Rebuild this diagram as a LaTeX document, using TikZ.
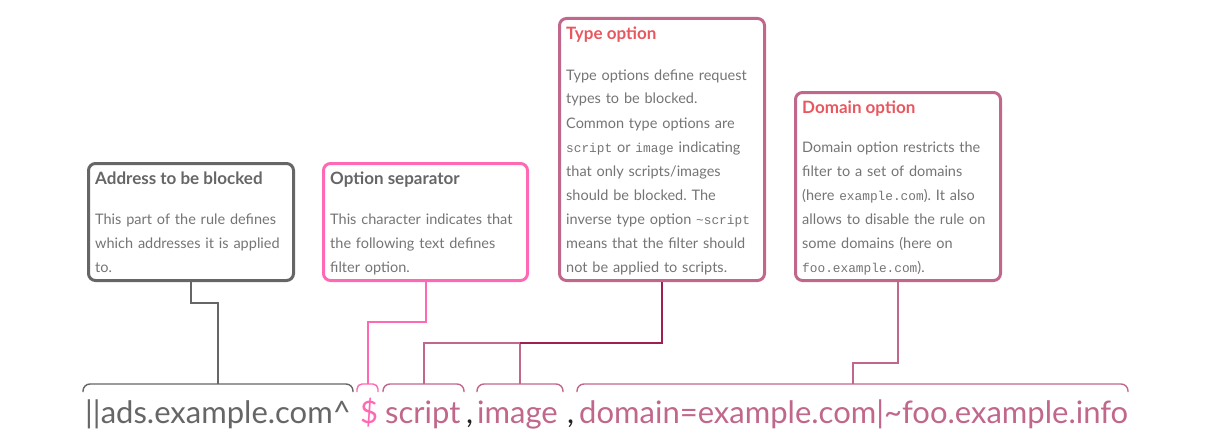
\documentclass[tikz,border=0pt]{standalone}
\usepackage{fontspec}
\setmainfont{Lato}
\newfontfamily\monofont{Liberation Mono}
\frenchspacing
\definecolor{cgray}{HTML}{666666}
\definecolor{cpink}{HTML}{FF69B4}
\definecolor{cmauve}{HTML}{C0678B}
\definecolor{cdark}{HTML}{9E1F52}
\definecolor{cred}{HTML}{E9575E}
\definecolor{ctext}{HTML}{747474}
\definecolor{ccomma}{HTML}{222222}
\newcommand{\mono}[1]{{\monofont\fontsize{12.8}{24}\selectfont #1}}
\tikzset{
  infobox/.style={draw=#1, line width=3pt, rounded corners=7pt, inner sep=0pt},
  boxtitle/.style={anchor=base west, inner sep=0pt, font={\fontsize{17}{20}\selectfont\bfseries}},
  boxbody/.style={anchor=base west, inner sep=0pt, text width=205pt, align=left, text=ctext,
    font={\fontsize{14.5}{24}\selectfont\frenchspacing}},
  rule/.style={anchor=base west, inner sep=0pt, font={\fontsize{31}{36}\selectfont}},
  link/.style={draw=#1, line width=2pt},
  brace/.style={draw=#1, line width=1.4pt, rounded corners=7pt},
}
\begin{document}
\begin{tikzpicture}[x=1pt,y=-1pt]
\useasboundingbox (0,0) rectangle (1217,444);
% boxes
\node[infobox=cgray, minimum width=205pt, minimum height=117pt] (addr) at (191,222) {};
\node[infobox=cpink, minimum width=204pt, minimum height=117pt] (sep) at (425.5,222) {};
\node[infobox=cmauve, minimum width=205pt, minimum height=262pt] (typeopt) at (662,149.5) {};
\node[infobox=cmauve, minimum width=205pt, minimum height=188pt] (domopt) at (898,186.5) {};
% titles
\node[boxtitle, text=cgray] (t1) at (95,184.5) {Address to be blocked};
\node[boxtitle, text=cgray] (t2) at (330,184.5) {Option separator};
\node[boxtitle, text=cred] (t3) at (566,40) {Type option};
\node[boxtitle, text=cred] (t4) at (802,113.5) {Domain option};
% bodies
\node[boxbody] (b1) at (95,224) {This part of the rule defines\\which addresses it is applied\\to.};
\node[boxbody] (b2) at (330,224) {This character indicates that\\the following text defines\\filter option.};
\node[boxbody] (b3) at (566,80) {Type options define request\\types to be blocked.\\Common type options are\\\mono{script} or \mono{image} indicating\\that only scripts/images\\should be blocked. The\\inverse type option \mono{\textasciitilde script}\\means that the filter should\\not be applied to scripts.};
\node[boxbody] (b4) at (802,152) {Domain option restricts the\\filter to a set of domains\\(here \mono{example.com}). It also\\allows to disable the rule on\\some domains (here on\\\mono{foo.example.com}).};
% rule text
\node[rule, text=cgray] (host) at (85,423) {||ads.example.com\textasciicircum};
\node[rule, text=cpink] (dollar) at (360,423) {\$};
\node[rule, text=cmauve] (script) at (385,423) {script};
\node[rule, text=ccomma] (comma1) at (466,423) {,};
\node[rule, text=cmauve] (image) at (477,423) {image};
\node[rule, text=ccomma] (comma2) at (567,423) {,};
\node[rule, text=cmauve] (domain) at (579,423) {domain=example.com|\textasciitilde foo.example.info};
% braces
\draw[brace=cgray] (83,392) -- (83,384) -- (353,384) -- (353,392);
\draw[brace=cpink, rounded corners=5pt] (357,392) -- (357,384) -- (378,384) -- (378,392);
\draw[brace=cmauve] (383,392) -- (383,384) -- (464,384) -- (464,392);
\draw[brace=cmauve] (477,392) -- (477,384) -- (563,384) -- (563,392);
\draw[brace=cmauve] (577,392) -- (577,384) -- (1128,384) -- (1128,392);
% brace attach points
\coordinate (hostb) at (218,384);
\coordinate (dollarb) at (368,384);
\coordinate (scriptb) at (424,384);
\coordinate (imageb) at (520,384);
\coordinate (typej) at (520,343);
\coordinate (domainb) at (853,384);
% connectors
\draw[link=cgray] (addr.south) -- ++(0,21) -| (hostb);
\draw[link=cpink] (sep.south) -- ++(0,40) -| (dollarb);
\draw[link=cmauve] (scriptb) |- (typej) -- (imageb);
\draw[link=cdark] (typeopt.south) |- (typej);
\draw[link=cmauve] (domopt.south) -- ++(0,81) -| (domainb);
\end{tikzpicture}
\end{document}
